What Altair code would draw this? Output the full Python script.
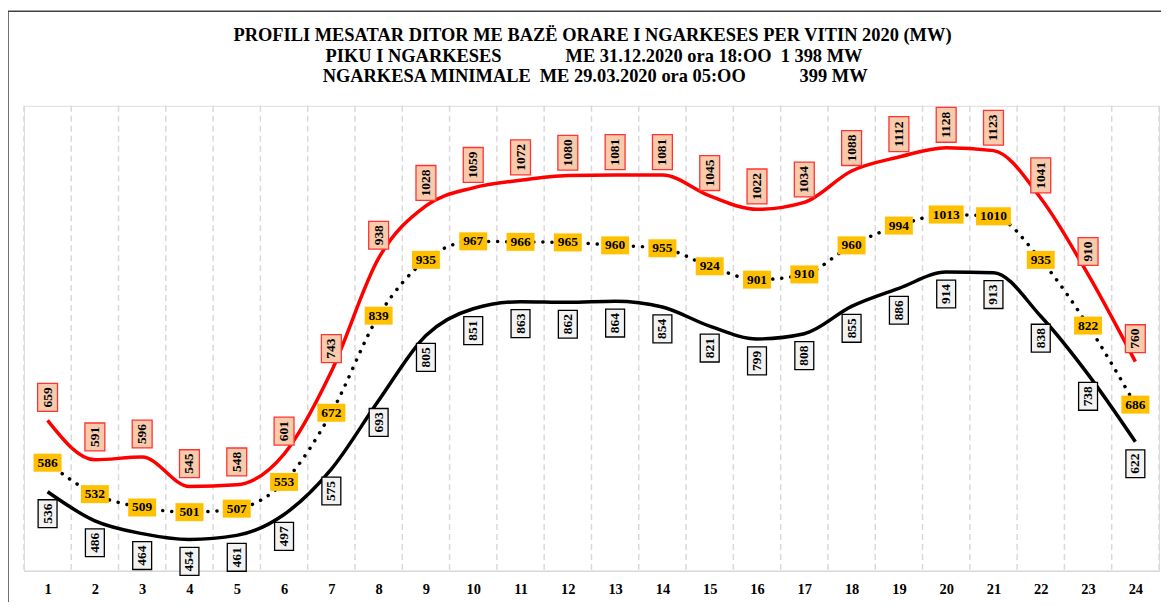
import altair as alt
import pandas as pd

hours = list(range(1, 25))
max_vals = [659, 591, 596, 545, 548, 601, 743, 938, 1028, 1059, 1072, 1080,
            1081, 1081, 1045, 1022, 1034, 1088, 1112, 1128, 1123, 1041, 910, 760]
avg_vals = [586, 532, 509, 501, 507, 553, 672, 839, 935, 967, 966, 965,
            960, 955, 924, 901, 910, 960, 994, 1013, 1010, 935, 822, 686]
min_vals = [536, 486, 464, 454, 461, 497, 575, 693, 805, 851, 863, 862,
            864, 854, 821, 799, 808, 855, 886, 914, 913, 838, 738, 622]

title_line1 = "PROFILI MESATAR DITOR ME BAZË ORARE I NGARKESES PER VITIN 2020 (MW)"
title_line2 = ["PIKU I NGARKESES", "ME 31.12.2020 ora 18:OO", "1 398 MW"]
title_line3 = ["NGARKESA MINIMALE", "ME 29.03.2020 ora 05:OO", "399 MW"]

rows = []
for name, vals in (("max", max_vals), ("avg", avg_vals), ("min", min_vals)):
    for h, v in zip(hours, vals):
        rows.append({"hour": h, "v": v, "series": name})
df = pd.DataFrame(rows)
bounds = pd.DataFrame({"b": [h - 0.5 for h in hours] + [hours[-1] + 0.5]})
dummy = pd.DataFrame({"k": [0]})

W, H = 1140, 467
FONT = "Liberation Serif"

xscale = alt.Scale(domain=[0.5, 24.5], nice=False, zero=False)
xaxis = alt.Axis(values=hours, grid=False, ticks=False, title=None,
                 labelFont=FONT, labelFontSize=14.5, labelFontWeight="bold",
                 labelColor="black", labelPadding=12,
                 domainColor="#D9D9D9", domainWidth=1.5, format="d")
xs = alt.X("hour:Q", scale=xscale, axis=xaxis)
ys = alt.Y("v:Q", scale=alt.Scale(domain=[400, 1200], nice=False, zero=False), axis=None)

def box(w, h):
    # unit = sqrt(size)/2 = 5 px for size 100
    a, b = w / 10.0, h / 10.0
    return f"M{-a},{-b}L{a},{-b}L{a},{b}L{-a},{b}Z"

base = alt.Chart(df)

grid = alt.Chart(bounds).mark_rule(color="#D9D9D9", strokeWidth=1.5, strokeDash=[6, 4]).encode(
    x=alt.X("b:Q", scale=xscale, axis=xaxis)
)

frame_left = alt.Chart(dummy).mark_rule(color="#404040", strokeWidth=1.5).encode(
    x=alt.value(-16), y=alt.value(-95), y2=alt.value(700))
frame_top = alt.Chart(dummy).mark_rule(color="#404040", strokeWidth=1.5).encode(
    x=alt.value(-16), x2=alt.value(1300), y=alt.value(-95))

def ttext(text, x, y, align):
    return alt.Chart(dummy).mark_text(font=FONT, fontSize=18.5, fontWeight="bold", color="black",
                                      align=align, baseline="alphabetic").encode(
        x=alt.value(x), y=alt.value(y), text=alt.value(text))

title_layers = [ttext(title_line1, 571, -65, "center")]
for seg, x in zip(title_line2, [303, 544, 760]):
    title_layers.append(ttext(seg, x, -44, "left"))
for seg, x in zip(title_line3, [300, 518, 779]):
    title_layers.append(ttext(seg, x, -24, "left"))

line_max = base.transform_filter("datum.series == 'max'").mark_line(
    color="#FF0000", strokeWidth=3.5, interpolate="monotone").encode(x=xs, y=ys)
line_avg = base.transform_filter("datum.series == 'avg'").mark_line(
    color="black", strokeWidth=3.5, strokeDash=[0.1, 9], strokeCap="round",
    interpolate="monotone").encode(x=xs, y=ys)
line_min = base.transform_filter("datum.series == 'min'").mark_line(
    color="black", strokeWidth=3.5, interpolate="monotone").encode(x=xs, y=ys)

def labels(series, fill, stroke, sw, w, h3, h4, yoff, angle):
    d = base.transform_filter(f"datum.series == '{series}'")
    boxes = d.mark_point(filled=True, size=100, fill=fill, stroke=stroke,
                         strokeWidth=sw, opacity=1, yOffset=yoff).encode(
        x=xs, y=ys,
        shape=alt.condition("datum.v >= 1000", alt.value(box(w[1], h4)), alt.value(box(w[0], h3))),
    )
    txt = d.mark_text(font=FONT, fontSize=13.5, fontWeight="bold", color="black",
                      align="center", baseline="middle", angle=angle, yOffset=yoff).encode(
        x=xs, y=ys, text=alt.Text("v:Q", format="d"))
    return boxes + txt

lab_max = labels("max", "#F8CBAD", "#FF3333", 1.3, (20, 20), 28, 35, -23, 270)
lab_min = labels("min", "#F2F2F2", "#000000", 1.3, (19, 19), 28, 35, 22, 270)
lab_avg = labels("avg", "#FFC000", "#FFC000", 0.1, (28, 35), 18, 18, 0, 0)

chart = alt.layer(
    grid, frame_left, frame_top, *title_layers,
    line_min, line_avg, line_max, lab_max, lab_min, lab_avg
).properties(
    width=W, height=H,
    autosize=alt.AutoSizeParams(type="none"),
    padding={"left": 16, "top": 97, "right": 2, "bottom": 30},
).configure_view(strokeWidth=0, stroke="transparent").configure(background="white")

chart.save("out.html", embed_options={"renderer": "svg", "actions": False})
